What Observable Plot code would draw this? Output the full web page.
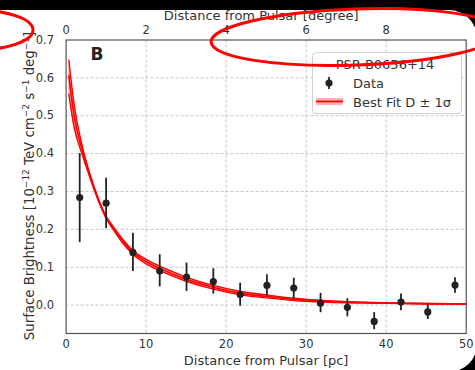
<!DOCTYPE html>
<html>
<head>
<meta charset="utf-8">
<script src="https://cdn.jsdelivr.net/npm/d3@7"></script>
<script src="https://cdn.jsdelivr.net/npm/@observablehq/plot@0.6"></script>
<style>
  html, body { margin: 0; padding: 0; }
  body { width: 475px; height: 370px; background: #000; position: relative; overflow: hidden; font-family: "DejaVu Sans", sans-serif; }
  #bg { position: absolute; left: -30px; top: 10px; width: 507px; height: 362px; background: #fff; border-radius: 28px; }
  #chart { position: absolute; left: 0; top: 0; }
  #legend { position: absolute; left: 312px; top: 52px; width: 150px; height: 62px; box-sizing: border-box;
    border: 1px solid #d0d0d0; border-radius: 4px; background: rgba(255,255,255,0.85); color: #333; font-size: 13px; }
  #overlay { position: absolute; left: 0; top: 0; pointer-events: none; }
</style>
</head>
<body>
<div id="bg"></div>
<div id="chart"></div>
<div id="legend"></div>
<svg id="overlay" width="475" height="370"></svg>
<script>
// ---- Data ----
const distPc   = [1.7, 5.0, 8.35, 11.7, 15.05, 18.4, 21.75, 25.1, 28.45, 31.8, 35.15, 38.5, 41.85, 45.2, 48.6];
const brightness = [0.284, 0.269, 0.139, 0.090, 0.074, 0.062, 0.028, 0.052, 0.045, 0.005, -0.006, -0.043, 0.008, -0.018, 0.053];
const errTop   = [0.400, 0.335, 0.190, 0.133, 0.111, 0.096, 0.058, 0.080, 0.071, 0.031, 0.017, -0.020, 0.029, 0.003, 0.072];
const errBottom= [0.165, 0.202, 0.089, 0.048, 0.036, 0.029, -0.003, 0.024, 0.017, -0.020, -0.031, -0.065, -0.015, -0.038, 0.031];

const fitPc     = [0.34, 1, 2, 3, 4, 5, 6, 7, 8.3, 10, 11.7, 13, 15, 18.4, 21.8, 25, 28.5, 32, 35, 38.5, 42, 46, 50];
const fitCenter = [0.606, 0.50, 0.41, 0.34, 0.28, 0.232, 0.200, 0.171, 0.140, 0.115, 0.097, 0.085, 0.068, 0.047, 0.031, 0.023, 0.015, 0.010, 0.008, 0.006, 0.005, 0.004, 0.003];
const fitUpper  = [0.647, 0.53, 0.422, 0.345, 0.283, 0.235, 0.204, 0.176, 0.145, 0.121, 0.103, 0.091, 0.074, 0.052, 0.036, 0.027, 0.018, 0.012, 0.009, 0.007, 0.005, 0.004, 0.003];
const fitLower  = [0.557, 0.47, 0.398, 0.335, 0.277, 0.229, 0.196, 0.166, 0.135, 0.109, 0.091, 0.079, 0.063, 0.042, 0.027, 0.019, 0.012, 0.008, 0.006, 0.005, 0.004, 0.003, 0.003];

const xTicksPc = [0, 10, 20, 30, 40, 50];
const degTicks = [0, 2, 4, 6, 8];
const pcPerDegree = 5;
const yTicks = [0, 0.1, 0.2, 0.3, 0.4, 0.5, 0.6, 0.7];

const xLabel = "Distance from Pulsar [pc]";
const topLabel = "Distance from Pulsar [degree]";
// y label as [base text, superscript] pieces
const yLabelParts = [["Surface Brightness [10", "\u221212"], [" TeV cm", "\u22122"], [" s", "\u22121"], [" deg", "\u22121"], ["]", ""]];
const panelLabel = "B";
const legendTitle = "PSR B0656+14";
const legendData = "Data";
const legendFit = "Best Fit D \u00B1 1\u03C3";

// ---- Tables ----
const points = distPc.map((x, i) => ({x, y: brightness[i], lo: errBottom[i], hi: errTop[i]}));
const fit = fitPc.map((x, i) => ({x, c: fitCenter[i], u: fitUpper[i], l: fitLower[i]}));

const textColor = "#333";
const gridStyle = {stroke: "#b8b8b8", strokeOpacity: 1, strokeWidth: 0.8, strokeDasharray: "3,2"};

const chart = Plot.plot({
  width: 475,
  height: 370,
  marginLeft: 65.6,
  marginRight: 9.3,
  marginTop: 39.5,
  marginBottom: 37,
  style: {background: "transparent", fontFamily: "DejaVu Sans, sans-serif", fontSize: "11.5px", color: textColor, overflow: "visible"},
  x: {domain: [0, 50]},
  y: {domain: [-0.075, 0.7]},
  marks: [
    Plot.gridX(xTicksPc.slice(1, -1), gridStyle),
    Plot.gridY(yTicks.slice(0, -1), gridStyle),
    Plot.areaY(fit, {x: "x", y1: "l", y2: "u", fill: "#ff0000", fillOpacity: 0.35, curve: "monotone-x"}),
    Plot.line(fit, {x: "x", y: "u", stroke: "#ff0000", strokeWidth: 1.4, curve: "monotone-x"}),
    Plot.line(fit, {x: "x", y: "l", stroke: "#ff0000", strokeWidth: 1.4, curve: "monotone-x"}),
    Plot.line(fit, {x: "x", y: "c", stroke: "#ff0000", strokeWidth: 1.6, curve: "monotone-x"}),
    Plot.ruleX(points, {x: "x", y1: "lo", y2: "hi", stroke: "#222", strokeWidth: 1.8}),
    Plot.dot(points, {x: "x", y: "y", r: 3.6, fill: "#222", stroke: "none"}),
    Plot.frame({stroke: "#555", strokeWidth: 1.2}),
    Plot.axisX(xTicksPc, {anchor: "bottom", tickSize: 0, tickPadding: 6, label: null, fill: textColor}),
    Plot.axisX(degTicks.map(d => d * pcPerDegree), {anchor: "top", tickSize: 0, tickPadding: 6, tickFormat: d => String(d / pcPerDegree), label: null, fill: textColor}),
    Plot.axisY(yTicks, {anchor: "left", tickSize: 0, tickPadding: 12, tickFormat: d3.format(".1f"), label: null, fill: textColor}),
    Plot.text([xLabel], {frameAnchor: "bottom", dy: 27, fontSize: 13, fill: textColor, lineAnchor: "middle"}),
    Plot.text([topLabel], {frameAnchor: "top", dy: -24.5, dx: -5, fontSize: 13, fill: textColor, lineAnchor: "middle"}),
    Plot.text([panelLabel], {frameAnchor: "top-left", dx: 31, dy: 14.5, fontSize: 17, fontWeight: "bold", fill: "#222", lineAnchor: "middle", textAnchor: "middle"})
  ]
});
document.getElementById("chart").appendChild(chart);

// ---- Legend ----
const legend = document.getElementById("legend");
legend.innerHTML = `
<svg width="150" height="62" style="position:absolute;left:-1px;top:-1px">
  <text x="73" y="12" text-anchor="middle" dominant-baseline="central" font-size="13" fill="${textColor}">${legendTitle}</text>
  <line x1="17" x2="17" y1="25" y2="37" stroke="#222" stroke-width="1.8"/>
  <circle cx="17" cy="31" r="3.6" fill="#222"/>
  <text x="41" y="31" dominant-baseline="central" font-size="13" fill="${textColor}">${legendData}</text>
  <rect x="4" y="46" width="27" height="7" fill="#ff0000" fill-opacity="0.3"/>
  <line x1="4" x2="31" y1="49.5" y2="49.5" stroke="#ff0000" stroke-width="1.8"/>
  <text x="41" y="50" dominant-baseline="central" font-size="13" fill="${textColor}">${legendFit}</text>
</svg>`;

// ---- Overlay: rotated y label with real superscripts, then annotation ellipses ----
const overlay = d3.select("#overlay");
const yl = overlay.append("text")
  .attr("transform", "translate(34,186) rotate(-90)")
  .attr("text-anchor", "middle")
  .attr("font-family", "DejaVu Sans, sans-serif")
  .attr("font-size", 13.3)
  .attr("fill", textColor);
let raised = false;
yLabelParts.forEach(([base, sup]) => {
  yl.append("tspan").attr("dy", raised ? 5 : 0).text(base);
  raised = false;
  if (sup) {
    yl.append("tspan").attr("font-size", 9).attr("dy", -5).text(sup);
    raised = true;
  }
});
overlay.append("ellipse").attr("cx", -25).attr("cy", 30).attr("rx", 58).attr("ry", 20)
  .attr("fill", "none").attr("stroke", "#ff0000").attr("stroke-width", 3);
overlay.append("ellipse").attr("cx", 356).attr("cy", 37).attr("rx", 145).attr("ry", 28)
  .attr("transform", "rotate(-2 356 37)")
  .attr("fill", "none").attr("stroke", "#ff0000").attr("stroke-width", 3);
</script>
</body>
</html>
